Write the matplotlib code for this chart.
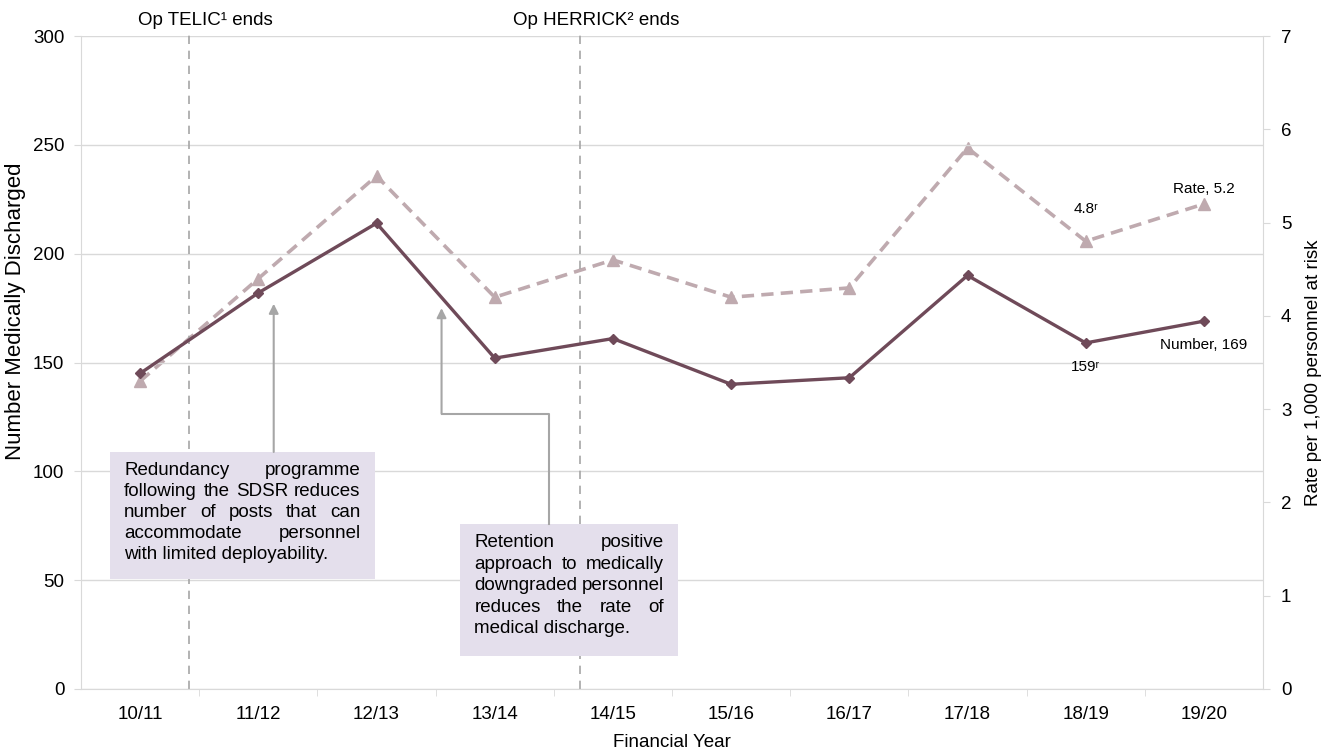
import matplotlib
matplotlib.use("Agg")
import matplotlib.pyplot as plt
from matplotlib.patches import Rectangle

plt.rcParams['font.family'] = ['Liberation Sans', 'DejaVu Sans']

years = ['10/11', '11/12', '12/13', '13/14', '14/15', '15/16', '16/17', '17/18', '18/19', '19/20']
number = [145, 182, 214, 152, 161, 140, 143, 190, 159, 169]
rate = [3.3, 4.4, 5.5, 4.2, 4.6, 4.2, 4.3, 5.8, 4.8, 5.2]

events = ['Op TELIC\u00b9 ends', 'Op HERRICK\u00b2 ends']
event_x = [0.41, 3.72]

note1 = ['Redundancy programme', 'following the SDSR reduces', 'number of posts that can',
         'accommodate personnel', 'with limited deployability.']
note2 = ['Retention positive', 'approach to medically', 'downgraded personnel',
         'reduces the rate of', 'medical discharge.']

NUM_C = '#6F4A59'
RATE_C = '#BFAAAF'
GRID_C = '#D9D9D9'
BOX_C = '#E4DFEC'
ARROW_C = '#A6A6A6'
FS = 13.5


def justify(ax, lines, x0, x1, y0, dy, fs):
    # spread words over the box width, last line left aligned
    fig = ax.figure
    r = fig.canvas.get_renderer()
    px = ax.transData.transform([(x0, 0), (x1, 0)])
    ppu = (px[1][0] - px[0][0]) / (x1 - x0)
    for i, line in enumerate(lines):
        y = y0 - i * dy
        words = line.split()
        if i == len(lines) - 1 or len(words) == 1:
            ax.text(x0, y, line, fontsize=fs, ha='left', va='center', color='black', zorder=6)
            continue
        ts = [ax.text(x0, y, w, fontsize=fs, ha='left', va='center', color='black', zorder=6) for w in words]
        widths = [t.get_window_extent(r).width / ppu for t in ts]
        gap = (x1 - x0 - sum(widths)) / (len(words) - 1)
        xx = x0
        for t, w in zip(ts, widths):
            t.set_x(xx)
            xx += w + gap


fig = plt.figure(figsize=(13.33, 7.51), dpi=100)
ax = fig.add_axes([0.0608, 0.0826, 0.8867, 0.8694])
ax2 = ax.twinx()

xs = list(range(len(years)))
ax.set_xlim(-0.5, len(years) - 0.5)
ax.set_ylim(0, 300)
ax2.set_ylim(0, 7)
ax.set_yticks(range(0, 301, 50))
ax2.set_yticks(range(0, 8))
ax.set_xticks(xs)
ax.set_xticklabels(years)
ax.set_xticks([i + 0.5 for i in xs[:-1]], minor=True)
ax.tick_params(axis='x', which='major', length=0, pad=12, labelsize=FS)
ax.tick_params(axis='x', which='minor', length=5, color=GRID_C)
ax.tick_params(axis='y', length=5, color=GRID_C, labelsize=FS, pad=7)
ax2.tick_params(axis='y', length=5, color=GRID_C, labelsize=FS, pad=8)
ax.grid(axis='y', color=GRID_C, linewidth=1)
ax.set_axisbelow(True)
for a in (ax, ax2):
    a.spines['top'].set_visible(False)
    for s in ('left', 'right', 'bottom'):
        a.spines[s].set_color(GRID_C)
ax.spines['right'].set_visible(False)
ax2.spines['left'].set_visible(False)
ax2.spines['bottom'].set_visible(False)

ax.set_xlabel('Financial Year', fontsize=FS, labelpad=8)
ax.set_ylabel('Number Medically Discharged', fontsize=16)
ax.yaxis.set_label_coords(-0.0465, 0.579)
ax2.set_ylabel('Rate per 1,000 personnel at risk', fontsize=FS)
ax2.yaxis.set_label_coords(1.0355, 0.484)

ax2.plot(xs, rate, color=RATE_C, linewidth=2.6, dashes=(3.4, 2), marker='^', markersize=8, zorder=3)
ax.plot(xs, number, color=NUM_C, linewidth=2.4, marker='D', markersize=5.5, zorder=4)
ax.set_zorder(ax2.get_zorder() + 1)
ax.patch.set_visible(False)

for ex, lab in zip(event_x, events):
    ax.plot([ex, ex], [0, 301.5], color='#A6A6A6', linewidth=1.2, dashes=(5, 4), clip_on=False, zorder=1)
    ax.text(ex + 0.14, 307.3, lab, fontsize=FS, ha='center', va='center')

ax2.text(8, rate[8] + 0.345, f'{rate[8]}\u02b3', fontsize=11, ha='center', va='center')
ax2.text(9, rate[9] + 0.16, f'Rate, {rate[9]}', fontsize=11, ha='center', va='center')
ax.text(8, number[8] - 11, f'{number[8]}\u02b3', fontsize=11, ha='center', va='center')
ax.text(9, number[9] - 11, f'Number, {number[9]}', fontsize=11, ha='center', va='center')

# note boxes
ax.add_patch(Rectangle((-0.253, 50.5), 2.243, 58.4, facecolor=BOX_C, edgecolor='none', zorder=5))
ax.add_patch(Rectangle((2.71, 15.2), 1.84, 60.6, facecolor=BOX_C, edgecolor='none', zorder=5))
justify(ax, note1, -0.135, 1.865, 100.6, 9.7, FS)
justify(ax, note2, 2.827, 4.43, 67.1, 9.85, FS)

ap = dict(arrowstyle='-|>', color=ARROW_C, linewidth=1.5, mutation_scale=14, shrinkA=0, shrinkB=0)
ax.annotate('', xy=(1.13, 177), xytext=(1.13, 108.9), arrowprops=ap, zorder=5)
ax.plot([3.457, 3.457, 2.55], [75.8, 126.5, 126.5], color=ARROW_C, linewidth=1.5, zorder=5)
ax.annotate('', xy=(2.55, 175), xytext=(2.55, 126.5), arrowprops=ap, zorder=5)

fig.savefig('out.png', dpi=100)
